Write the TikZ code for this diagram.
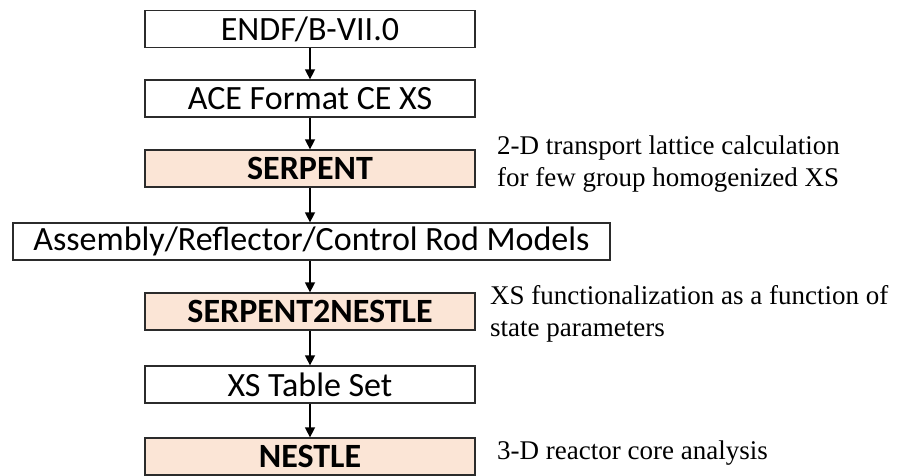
\documentclass[tikz,border=0pt]{standalone}
\usepackage{fontspec}
\setmainfont{Liberation Serif}
\newfontfamily\boxfont{Carlito}
\usetikzlibrary{arrows.meta}
\definecolor{peach}{HTML}{FBE5D6}
\definecolor{edge}{HTML}{2B2B2B}
\tikzset{
  flowbox/.style={draw=edge, line width=1.3pt, fill=white, minimum width=330pt, minimum height=37pt,
    inner sep=0pt, font=\boxfont\fontsize{34}{36}\selectfont},
  hotbox/.style={flowbox, fill=peach, font=\boxfont\bfseries\fontsize{34}{36}\selectfont},
  flowarrow/.style={line width=1.5pt, -{Triangle[length=10pt,width=10pt]}},
  note/.style={anchor=west, align=left, inner sep=0pt, font=\fontsize{27}{32}\selectfont}
}
\begin{document}
\begin{tikzpicture}[x=1pt,y=-1pt]
\useasboundingbox (0,0) rectangle (900,475);
\node[flowbox] (endf) at (310,29) {ENDF/B-VII.0};
\node[flowbox] (ace) at (310,98.5) {ACE Format CE XS};
\node[hotbox] (serp) at (310,168.5) {SERPENT};
\node[flowbox, minimum width=597pt] (asm) at (311.5,241.5) {Assembly/Reflector/Control Rod Models};
\node[hotbox] (s2n) at (310,311.5) {SERPENT2NESTLE};
\node[flowbox] (xst) at (310,384.5) {XS Table Set};
\node[hotbox] (nestle) at (310,456.5) {NESTLE};
\draw[flowarrow] (endf.south) -- (ace.north);
\draw[flowarrow] (ace.south) -- (serp.north);
\draw[flowarrow] (serp.south) -- (asm.north -| serp.south);
\draw[flowarrow] (asm.south -| s2n.north) -- (s2n.north);
\draw[flowarrow] (s2n.south) -- (xst.north);
\draw[flowarrow] (xst.south) -- (nestle.north);
\node[note] (n1) at (497,164) {2-D transport lattice calculation\\for few group homogenized XS};
\node[note] (n2) at (490,314) {XS functionalization as a function of\\state parameters};
\node[note] (n3) at (497,453) {3-D reactor core analysis};
\end{tikzpicture}
\end{document}
